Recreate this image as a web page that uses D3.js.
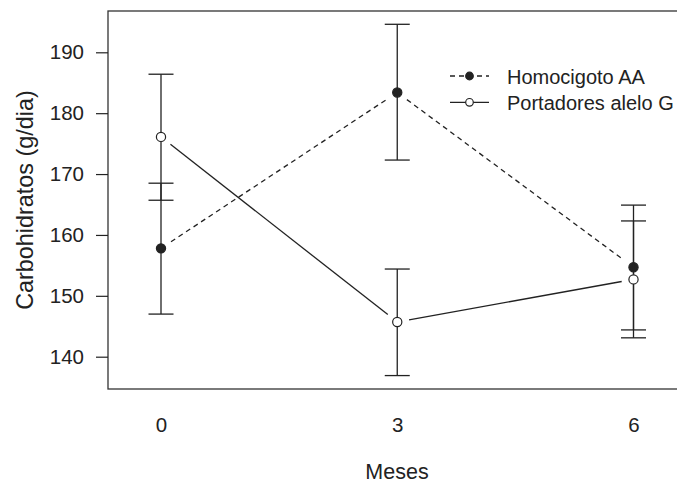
<!DOCTYPE html>
<html><head><meta charset="utf-8">
<script src="https://cdn.jsdelivr.net/npm/d3@7"></script>
<style>
html,body{margin:0;padding:0;background:#fff;}
svg{display:block;}
text{font-family:"Liberation Sans",Arial,Helvetica,sans-serif;fill:#222;}
</style></head>
<body><svg id="c" width="677" height="486"></svg>
<script>
const months = [0, 3, 6];
const yTicks = [140, 150, 160, 170, 180, 190];
const seriesNames = ["Homocigoto AA", "Portadores alelo G"];
const homoMean = [157.8, 183.4, 154.7];
const homoLow  = [147.0, 172.3, 144.4];
const homoHigh = [168.5, 194.6, 164.9];
const portMean = [176.1, 145.7, 152.7];
const portLow  = [165.7, 136.9, 143.1];
const portHigh = [186.4, 154.4, 162.3];

const svg = d3.select("#c");
const box = {left:108, top:11, right:690, bottom:389};
const x = d3.scaleLinear().domain([0, 6]).range([161, 633.5]);
const y = d3.scaleLinear().domain([140, 190]).range([356.7, 52.3]);
const ink = "#222";
const fs = 20.5;

// box
svg.append("rect").attr("x", box.left).attr("y", box.top)
  .attr("width", box.right - box.left).attr("height", box.bottom - box.top)
  .attr("fill", "none").attr("stroke", "#333").attr("stroke-width", 1.3);

// y axis
const yAxis = svg.append("g").attr("transform", `translate(${box.left},0)`)
  .call(d3.axisLeft(y).tickValues(yTicks).tickSize(12).tickPadding(12).tickFormat(d3.format("d")));
yAxis.select(".domain").remove();
yAxis.selectAll("line").attr("stroke", ink).attr("stroke-width", 1.2);
yAxis.selectAll("text").attr("font-size", fs).attr("fill", ink)
  .style("font-family", '"Liberation Sans",Arial,sans-serif');

// x axis labels (no tick marks)
const xAxis = svg.append("g").attr("transform", `translate(0,${box.bottom})`)
  .call(d3.axisBottom(x).tickValues(months).tickSize(0).tickPadding(28).tickFormat(d3.format("d")));
xAxis.select(".domain").remove();
xAxis.selectAll("text").attr("font-size", fs).attr("fill", ink)
  .style("font-family", '"Liberation Sans",Arial,sans-serif');

// axis titles
svg.append("text").attr("x", 397).attr("y", 479).attr("text-anchor", "middle")
  .attr("font-size", 21.5).text("Meses");
svg.append("text").attr("transform", "translate(33,200) rotate(-90)")
  .attr("text-anchor", "middle").attr("font-size", 23.4).text("Carbohidratos (g/dia)");

const series = [
  {name: seriesNames[0], mean: homoMean, lo: homoLow, hi: homoHigh, fill: ink, dash: "5,4"},
  {name: seriesNames[1], mean: portMean, lo: portLow, hi: portHigh, fill: "#fff", dash: null}
];
const gap = 12, cap = 12.5, r = 4.6;

series.forEach(s => {
  const g = svg.append("g");
  for (let i = 0; i < months.length - 1; i++) {
    const x1 = x(months[i]), y1 = y(s.mean[i]), x2 = x(months[i+1]), y2 = y(s.mean[i+1]);
    const L = Math.hypot(x2 - x1, y2 - y1), ux = (x2 - x1) / L, uy = (y2 - y1) / L;
    g.append("line").attr("x1", x1 + ux*gap).attr("y1", y1 + uy*gap)
      .attr("x2", x2 - ux*gap).attr("y2", y2 - uy*gap)
      .attr("stroke", ink).attr("stroke-width", 1.3)
      .attr("stroke-dasharray", s.dash);
  }
  months.forEach((m, i) => {
    const cx = x(m);
    g.append("line").attr("x1", cx).attr("x2", cx).attr("y1", y(s.lo[i])).attr("y2", y(s.hi[i]))
      .attr("stroke", ink).attr("stroke-width", 1.3);
    [s.lo[i], s.hi[i]].forEach(v => {
      g.append("line").attr("x1", cx - cap).attr("x2", cx + cap).attr("y1", y(v)).attr("y2", y(v))
        .attr("stroke", ink).attr("stroke-width", 1.3);
    });
  });
  g.selectAll("circle").data(s.mean).join("circle")
    .attr("cx", (d, i) => x(months[i])).attr("cy", d => y(d)).attr("r", r)
    .attr("fill", s.fill).attr("stroke", ink).attr("stroke-width", 1.2);
});

// legend
const lg = svg.append("g");
series.forEach((s, i) => {
  const ly = 76 + i * 26.3;
  lg.append("line").attr("x1", 450).attr("x2", 489).attr("y1", ly).attr("y2", ly)
    .attr("stroke", ink).attr("stroke-width", 1.3).attr("stroke-dasharray", s.dash ? "5,4" : null);
  lg.append("circle").attr("cx", 469.5).attr("cy", ly).attr("r", 3.8)
    .attr("fill", s.fill).attr("stroke", ink).attr("stroke-width", 1.2);
  lg.append("text").attr("x", 507).attr("y", ly + 7.5).attr("font-size", 20).text(s.name);
});
</script></body></html>
